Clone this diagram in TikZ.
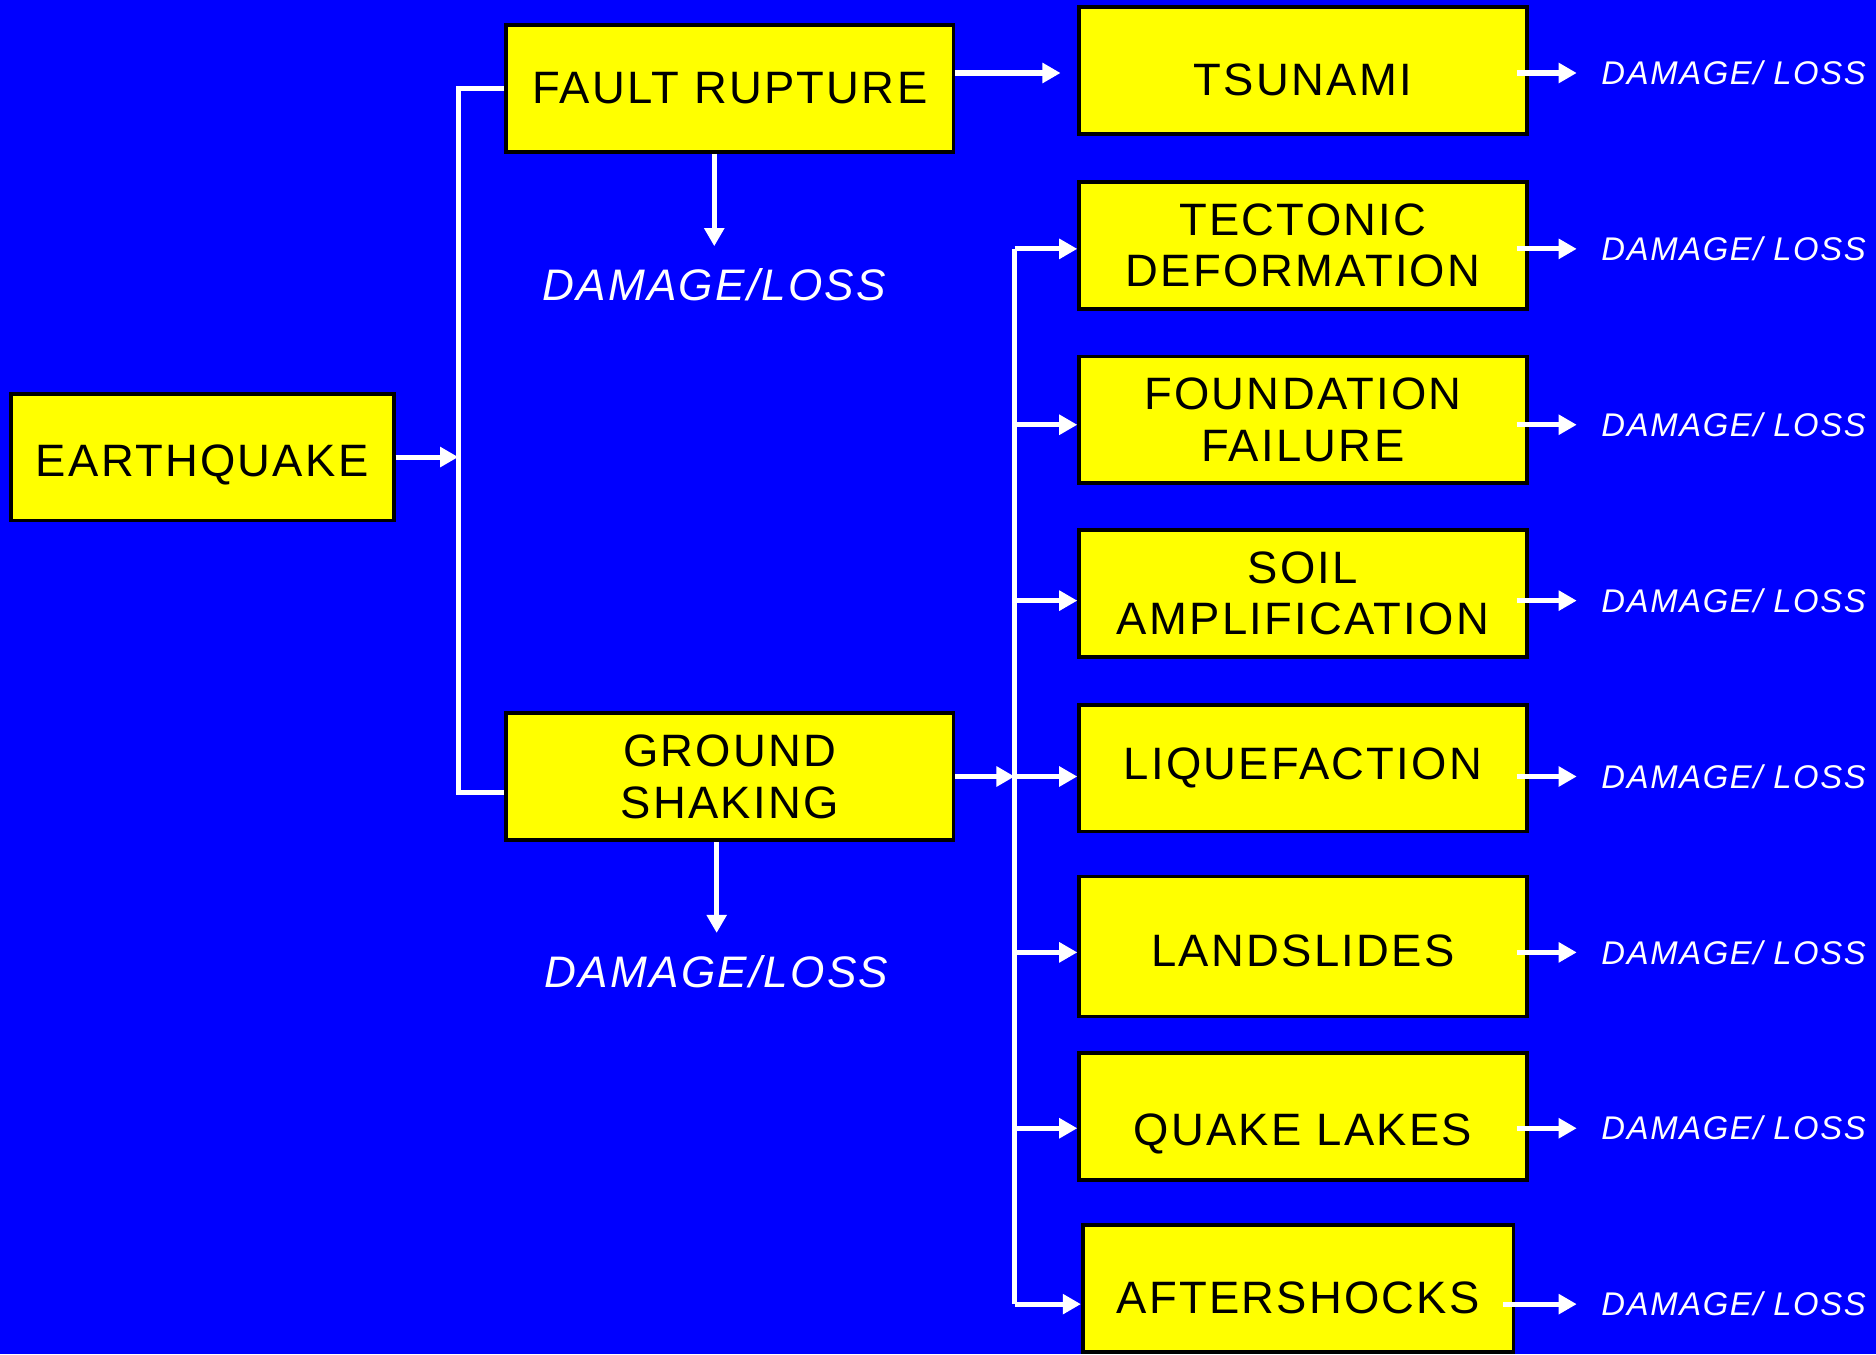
\documentclass[tikz,border=0pt]{standalone}
\usepackage{fontspec}
\setmainfont{Liberation Sans}[LetterSpace=5]
\usepackage{tikz}
\usetikzlibrary{calc}
\usetikzlibrary{arrows.meta}
\definecolor{bblue}{HTML}{0000FF}
\definecolor{yyellow}{HTML}{FFFF00}

\begin{document}
\begin{tikzpicture}[x=0.1mm,y=-0.1mm,
		box/.style={draw=black,line width=0.9pt,fill=yyellow,align=center,inner sep=0pt,
			minimum width=37.4mm,minimum height=10.6mm,font=\fontsize{10.8}{12.3}\selectfont},
		low/.style={text height=#1,text depth=0pt},
		loss/.style={text=white,inner sep=0pt,font=\fontsize{7.8}{9}\selectfont\itshape},
		bigloss/.style={text=white,inner sep=0pt,font=\fontsize{10.5}{12}\selectfont\itshape},
		wire/.style={draw=white,line width=1.2pt},
		arr/.style={wire,-{Triangle[length=4.3pt,width=4.6pt]}}]
				\fill[bblue] (0,0) rectangle (1568,1132);
				% hazards
				\node[box,low=9.4pt,minimum width=32mm] (eq) at (169,382) {EARTHQUAKE};
				\node[box] (fr) at (610,74) {FAULT RUPTURE};
				\node[box] (gs) at (610,649) {GROUND\\SHAKING};
				\node[box,low=11.7pt] (ts) at (1089,59) {TSUNAMI};
				\node[box] (td) at (1089,205) {TECTONIC\\DEFORMATION};
				\node[box] (ff) at (1089,351) {FOUNDATION\\FAILURE};
				\node[box] (sa) at (1089,496) {SOIL\\AMPLIFICATION};
				\node[box] (lq) at (1089,642) {LIQUEFACTION};
				\node[box,low=9.4pt,minimum height=11.7mm] (ls) at (1089,791) {LANDSLIDES};
				\node[box,low=14pt] (ql) at (1089,933) {QUAKE LAKES};
				\node[box,low=11.7pt,minimum width=36mm] (as) at (1085,1077) {AFTERSHOCKS};
				% losses
				\node[bigloss] (l1) at (597,238) {DAMAGE/LOSS};
				\node[bigloss] (l2) at (599,812) {DAMAGE/LOSS};
				\node[loss] (d1) at (1449,61) {DAMAGE/ LOSS};
				\node[loss] (d2) at (1449,208) {DAMAGE/ LOSS};
				\node[loss] (d3) at (1449,355) {DAMAGE/ LOSS};
				\node[loss] (d4) at (1449,502) {DAMAGE/ LOSS};
				\node[loss] (d5) at (1449,649) {DAMAGE/ LOSS};
				\node[loss] (d6) at (1449,796) {DAMAGE/ LOSS};
				\node[loss] (d7) at (1449,943) {DAMAGE/ LOSS};
				\node[loss] (d8) at (1449,1090) {DAMAGE/ LOSS};
				\coordinate (ub) at (383,662);
				\coordinate (tt) at (848,208);
				\coordinate (tb) at (848,1090);
				% connectors
				\draw[arr] (eq.east) -- (eq.east -| ub);
				\draw[wire] (fr.west) -| (ub) -- (gs.west |- ub);
				\draw[arr,shorten >=1.8mm] (fr.south -| l1) -- (l1.north);
				\draw[arr,shorten >=1.8mm] (gs.south -| l2) -- (l2.north);
				\draw[arr,shorten >=1.4mm] (fr.east |- d1) -- (ts.west |- d1);
				\draw[arr] (gs.east |- d5) -- (tt |- d5);
				\draw[wire] (tt) -- (tb);
				\draw[arr] (tt) -- (td.west |- d2);
				\draw[arr] (tt |- d3) -- (ff.west |- d3);
				\draw[arr] (tt |- d4) -- (sa.west |- d4);
				\draw[arr] (tt |- d5) -- (lq.west |- d5);
				\draw[arr] (tt |- d6) -- (ls.west |- d6);
				\draw[arr] (tt |- d7) -- (ql.west |- d7);
				\draw[arr] (tb) -- (as.west |- d8);
				\draw[arr,shorten <=-1mm,shorten >=2mm] (ts.east |- d1) -- (d1.west);
				\draw[arr,shorten <=-1mm,shorten >=2mm] (td.east |- d2) -- (d2.west);
				\draw[arr,shorten <=-1mm,shorten >=2mm] (ff.east |- d3) -- (d3.west);
				\draw[arr,shorten <=-1mm,shorten >=2mm] (sa.east |- d4) -- (d4.west);
				\draw[arr,shorten <=-1mm,shorten >=2mm] (lq.east |- d5) -- (d5.west);
				\draw[arr,shorten <=-1mm,shorten >=2mm] (ls.east |- d6) -- (d6.west);
				\draw[arr,shorten <=-1mm,shorten >=2mm] (ql.east |- d7) -- (d7.west);
				\draw[arr,shorten <=-1mm,shorten >=2mm] (as.east |- d8) -- (d8.west);
			\end{tikzpicture}
\end{document}
